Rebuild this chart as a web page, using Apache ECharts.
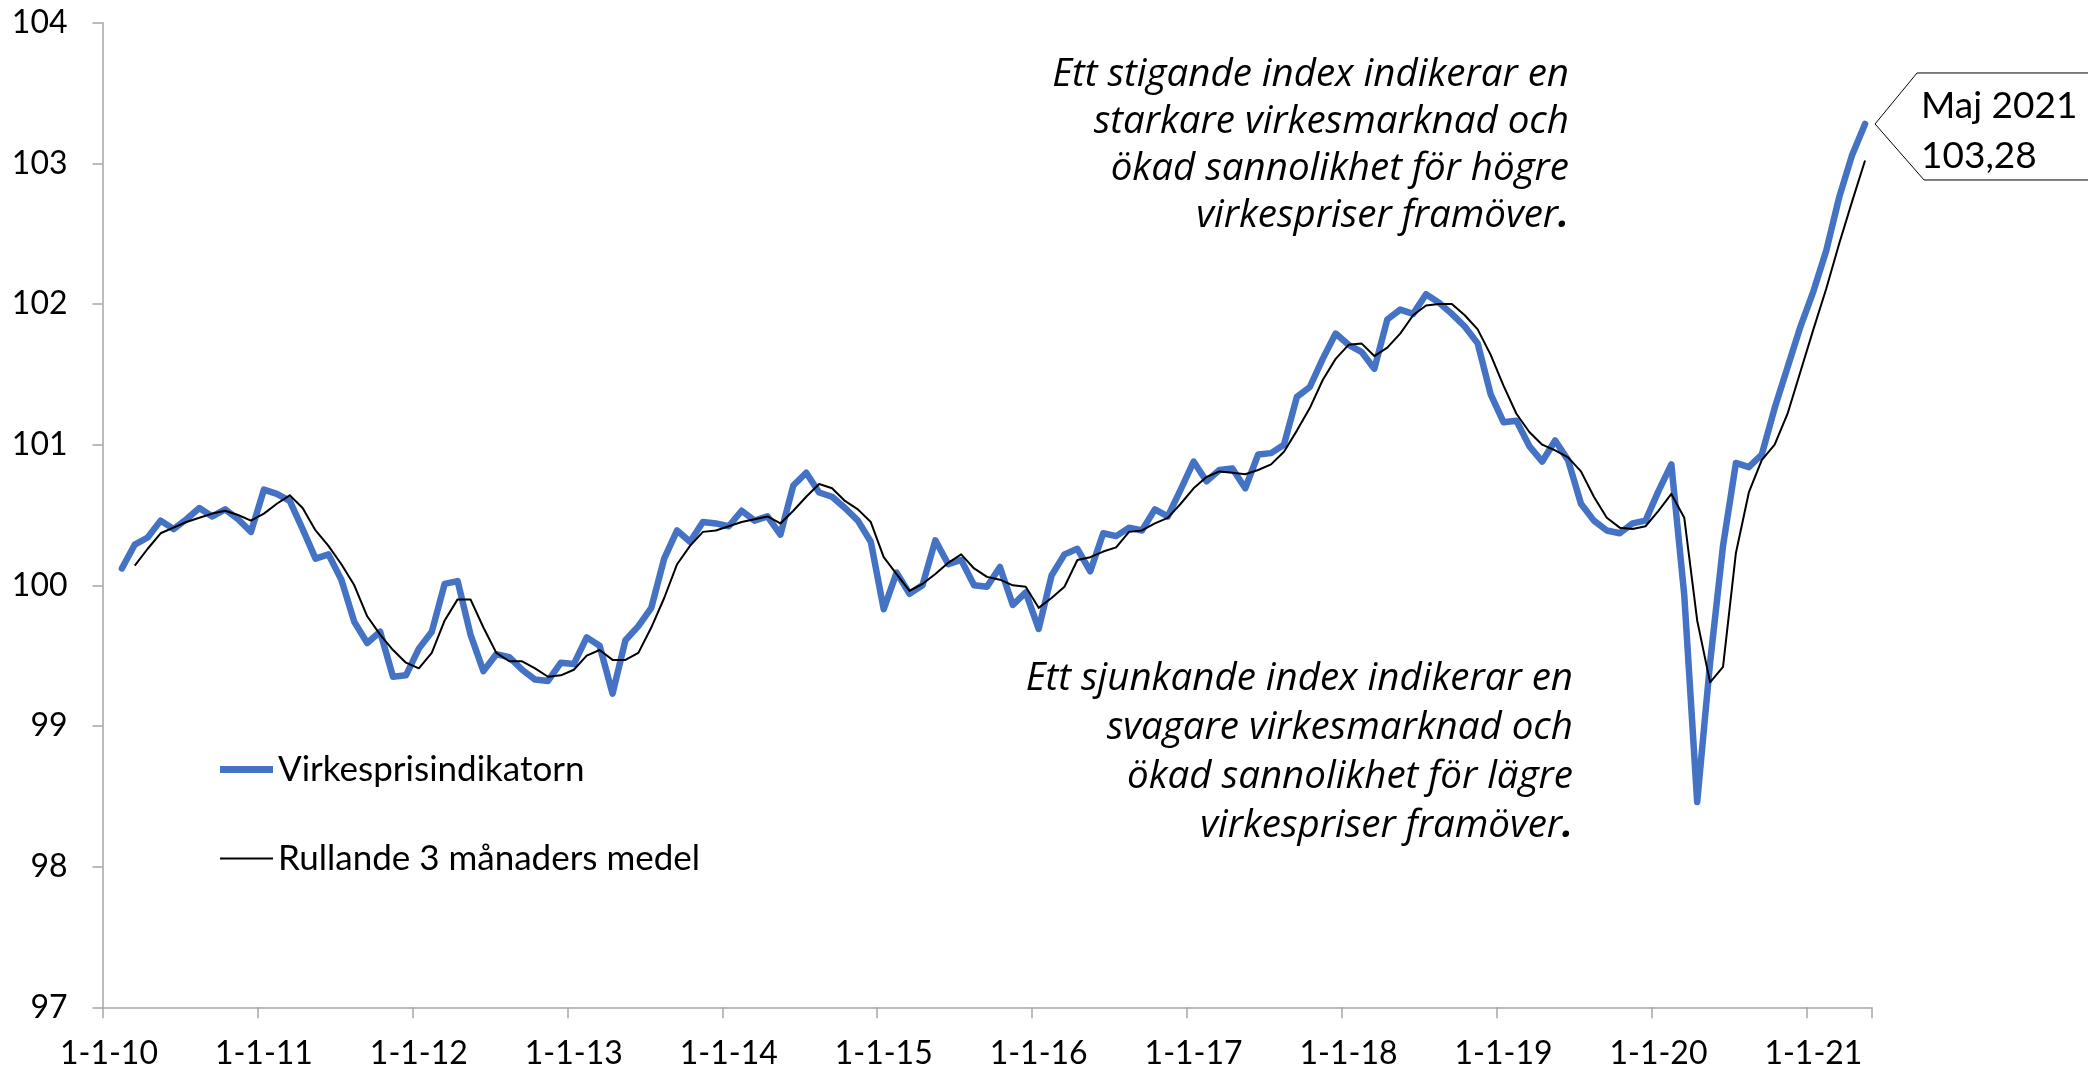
<!DOCTYPE html>
<html>
<head>
<meta charset="utf-8">
<script src="https://cdn.jsdelivr.net/npm/echarts@6/dist/echarts.min.js"></script>
<style>
  html, body { margin: 0; padding: 0; background: #fff; }
  #main { width: 2088px; height: 1072px; }
</style>
</head>
<body>
<div id="main"></div>
<script>
// tick labels on the x axis, one per January
const yearLabels = ['1-1-10', '1-1-11', '1-1-12', '1-1-13', '1-1-14', '1-1-15',
  '1-1-16', '1-1-17', '1-1-18', '1-1-19', '1-1-20', '1-1-21']
const firstYear = 2010
const monthCount = 137 // jan 2010 .. maj 2021

// Virkesprisindikatorn, one row per year
const indexValues = [
  null, 100.12, 100.29, 100.34, 100.46, 100.40, 100.47, 100.55, 100.49, 100.54, 100.47, 100.38,
  100.68, 100.65, 100.60, 100.40, 100.19, 100.22, 100.04, 99.74, 99.59, 99.67, 99.35, 99.36,
  99.55, 99.67, 100.01, 100.03, 99.65, 99.39, 99.51, 99.49, 99.40, 99.33, 99.32, 99.45,
  99.44, 99.63, 99.57, 99.23, 99.61, 99.71, 99.84, 100.19, 100.39, 100.31, 100.45, 100.44,
  100.42, 100.53, 100.46, 100.49, 100.36, 100.71, 100.80, 100.66, 100.63, 100.55, 100.46, 100.31,
  99.83, 100.09, 99.94, 100.00, 100.32, 100.15, 100.18, 100.00, 99.99, 100.13, 99.86, 99.95,
  99.69, 100.07, 100.22, 100.26, 100.10, 100.37, 100.35, 100.41, 100.39, 100.54, 100.49, 100.68,
  100.88, 100.74, 100.82, 100.83, 100.69, 100.93, 100.94, 101.00, 101.34, 101.41, 101.61, 101.79,
  101.71, 101.66, 101.54, 101.89, 101.96, 101.93, 102.07, 102.01, 101.93, 101.84, 101.72, 101.36,
  101.16, 101.17, 100.99, 100.88, 101.03, 100.89, 100.58, 100.46, 100.39, 100.37, 100.44, 100.46,
  100.67, 100.86, 99.93, 98.46, 99.45, 100.28, 100.87, 100.84, 100.93, 101.26, 101.55, 101.84,
  102.09, 102.38, 102.76, 103.06, 103.28
]

// Rullande 3 månaders medel
const rollingValues = [
  null, null, 100.14, 100.26, 100.37, 100.41, 100.45, 100.48, 100.51, 100.53, 100.50, 100.46,
  100.51, 100.58, 100.64, 100.55, 100.39, 100.28, 100.15, 100.00, 99.78, 99.65, 99.54, 99.45,
  99.41, 99.52, 99.75, 99.90, 99.90, 99.70, 99.52, 99.46, 99.46, 99.41, 99.35, 99.36,
  99.40, 99.50, 99.54, 99.47, 99.47, 99.52, 99.70, 99.91, 100.15, 100.28, 100.38, 100.39,
  100.42, 100.45, 100.47, 100.49, 100.44, 100.53, 100.63, 100.72, 100.69, 100.60, 100.54, 100.45,
  100.20, 100.08, 99.96, 100.01, 100.08, 100.16, 100.22, 100.12, 100.06, 100.04, 100.00, 99.99,
  99.84, 99.91, 99.99, 100.18, 100.20, 100.24, 100.27, 100.38, 100.39, 100.44, 100.48, 100.58,
  100.69, 100.77, 100.81, 100.80, 100.79, 100.82, 100.86, 100.95, 101.10, 101.26, 101.46, 101.61,
  101.71, 101.72, 101.63, 101.69, 101.79, 101.92, 101.99, 102.00, 102.00, 101.92, 101.82, 101.64,
  101.42, 101.22, 101.09, 101.00, 100.96, 100.91, 100.81, 100.63, 100.48, 100.41, 100.40, 100.42,
  100.53, 100.65, 100.48, 99.75, 99.31, 99.42, 100.23, 100.66, 100.89, 101.00, 101.22, 101.52,
  101.82, 102.11, 102.43, 102.73, 103.02
]

const upNote = ['Ett stigande index indikerar en', 'starkare virkesmarknad och',
  'ökad sannolikhet för högre', 'virkespriser framöver']
const downNote = ['Ett sjunkande index indikerar en', 'svagare virkesmarknad och',
  'ökad sannolikhet för lägre', 'virkespriser framöver']
const calloutMonth = 'Maj 2021'

const months = []
for (let i = 0; i < monthCount; i++) {
  const y = String((firstYear + Math.floor(i / 12)) % 100).padStart(2, '0')
  months.push('1-' + (i % 12 + 1) + '-' + y)
}

const font = 'Lato'
const noteFont = 'Open Sans'
const axisGray = '#A6A6A6'
const isJan = (i) => i % 12 === 0

const chart = echarts.init(document.getElementById('main'))

const option = {
  animation: false,
  backgroundColor: '#fff',
  grid: { left: 102.5, right: 216.5, top: 22.7, bottom: 64.7 },
  legend: [
    {
      data: [{ name: 'Virkesprisindikatorn', icon: 'rect' }],
      left: 220, top: 752, padding: 0,
      itemWidth: 53, itemHeight: 7,
      selectedMode: false,
      textStyle: { fontFamily: font, fontSize: 35, color: '#000' }
    },
    {
      data: [{ name: 'Rullande 3 månaders medel', icon: 'rect' }],
      left: 220, top: 841, padding: 0,
      itemWidth: 53, itemHeight: 2,
      selectedMode: false,
      textStyle: { fontFamily: font, fontSize: 35, color: '#000' }
    }
  ],
  xAxis: {
    type: 'category',
    data: months,
    boundaryGap: true,
    axisLine: { lineStyle: { color: axisGray, width: 1.5 } },
    axisTick: { show: true, interval: isJan, length: 11, lineStyle: { color: axisGray, width: 1.5 } },
    axisLabel: {
      interval: isJan,
      formatter: (v, i) => yearLabels[i / 12],
      fontFamily: font, fontSize: 32, color: '#000', margin: 30
    },
    splitLine: { show: false }
  },
  yAxis: {
    type: 'value',
    min: 97, max: 104, interval: 1,
    axisLine: { show: true, lineStyle: { color: axisGray, width: 1.5 } },
    axisTick: { show: true, length: 10, lineStyle: { color: axisGray, width: 1.5 } },
    axisLabel: { fontFamily: font, fontSize: 32, color: '#000', margin: 35 },
    splitLine: { show: false }
  },
  series: [
    {
      name: 'Virkesprisindikatorn',
      type: 'line',
      data: indexValues,
      symbol: 'none',
      color: '#4472C4',
      lineStyle: { width: 6.5, color: '#4472C4', cap: 'round', join: 'round' }
    },
    {
      name: 'Rullande 3 månaders medel',
      type: 'line',
      data: rollingValues,
      symbol: 'none',
      color: '#000',
      lineStyle: { width: 2, color: '#000', join: 'round' }
    }
  ]
}

chart.setOption(option)

// callout on the last month
const last = indexValues.length - 1
const p = chart.convertToPixel({ seriesIndex: 0 }, [last, indexValues[last]])
const lastText = indexValues[last].toFixed(2).replace('.', ',')

const noteStyle = (lines, lh) => ({
  text: lines.slice(0, -1).join('\n') + '\n' + lines[lines.length - 1] + '{b|.}',
  fontFamily: noteFont, fontSize: 38.5, fontStyle: 'italic',
  fill: '#000', align: 'right', verticalAlign: 'top', lineHeight: lh,
  rich: { b: { fontFamily: noteFont, fontSize: 38.5, fontWeight: 'bold', fontStyle: 'italic', lineHeight: lh } }
})

chart.setOption({
  graphic: [
    { type: 'text', x: 1569, y: 52, style: noteStyle(upNote, 47) },
    { type: 'text', x: 1573, y: 655, style: noteStyle(downNote, 49) },
    {
      type: 'polyline',
      shape: {
        points: [[2090, p[1] - 51], [p[0] + 52, p[1] - 51], [p[0] + 10, p[1]],
          [p[0] + 59, p[1] + 56], [2090, p[1] + 56]]
      },
      style: { stroke: '#000', lineWidth: 1, fill: null }
    },
    {
      type: 'text', x: p[0] + 56, y: p[1] - 43,
      style: {
        text: calloutMonth + '\n' + lastText,
        fontFamily: font, fontSize: 37, fill: '#000',
        align: 'left', verticalAlign: 'top', lineHeight: 50
      }
    }
  ]
})
</script>
</body>
</html>
